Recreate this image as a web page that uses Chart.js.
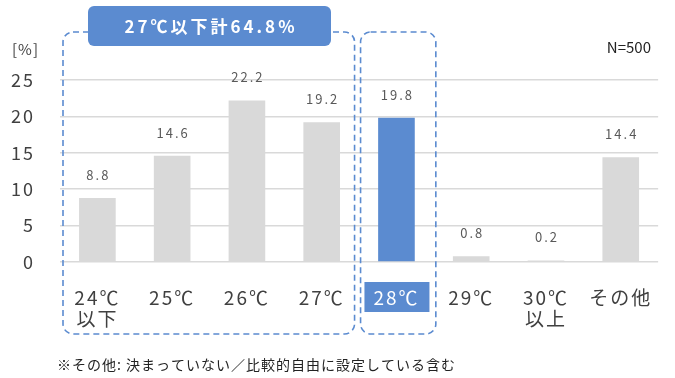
<!DOCTYPE html>
<html><head><meta charset="utf-8">
<script src="https://cdn.jsdelivr.net/npm/chart.js@4/dist/chart.umd.min.js"></script>
<style>html,body{margin:0;padding:0;background:#fff}#w{width:675px;height:378px}</style>
</head><body><div id="w"><canvas id="c" width="675" height="378"></canvas></div>
<script>
const categories = [["24℃","以下"],"25℃","26℃","27℃","28℃","29℃",["30℃","以上"],"その他"];
const values = [8.8, 14.6, 22.2, 19.2, 19.8, 0.8, 0.2, 14.4];
const valueLabels = ["8.8","14.6","22.2","19.2","19.8","0.8","0.2","14.4"];
const highlightIndex = 4;
const yTicks = [0,5,10,15,20,25];
const titleText = "27℃以下計64.8%";
const noteText = "※その他: 決まっていない／比較的自由に設定している含む";
const nText = "N=500";
const unitText = "[%]";

const BLUE = "#5B8BD0", GRAY = "#D9D9D9", TXT = "#404040";
const FONT = "'Noto Sans CJK JP','Noto Sans',sans-serif";

function rr(ctx,x,y,w,h,r){ctx.beginPath();ctx.moveTo(x+r,y);ctx.lineTo(x+w-r,y);ctx.arcTo(x+w,y,x+w,y+r,r);ctx.lineTo(x+w,y+h-r);ctx.arcTo(x+w,y+h,x+w-r,y+h,r);ctx.lineTo(x+r,y+h);ctx.arcTo(x,y+h,x,y+h-r,r);ctx.lineTo(x,y+r);ctx.arcTo(x,y,x+r,y,r);ctx.closePath();}

const decor = {
  id:'decor',
  beforeDraw(chart){
    const ctx = chart.ctx, xs = chart.scales.x;
    // 28℃ label box (drawn before the tick labels)
    const cx = xs.getPixelForValue(highlightIndex);
    ctx.save(); ctx.fillStyle = BLUE; ctx.fillRect(cx-32, 282, 65, 30); ctx.restore();
    ctx.letterSpacing = '2px';
  },
  afterDatasetsDraw(chart){ chart.ctx.letterSpacing = '0px'; },
  afterDraw(chart){
    const ctx = chart.ctx, xs = chart.scales.x;
    const meta = chart.getDatasetMeta(0);
    // value labels
    ctx.save();
    ctx.letterSpacing = '2px';
    ctx.font = "13px " + FONT; ctx.fillStyle = "#595959"; ctx.textAlign = 'center'; ctx.textBaseline = 'middle';
    meta.data.forEach((b,i)=>{ ctx.fillText(valueLabels[i], b.x+1, b.y-23); });
    ctx.restore();
    // dashed boxes
    const step = xs.getPixelForValue(1) - xs.getPixelForValue(0);
    const l0 = xs.getPixelForValue(0) - step/2 + 3;
    const r0 = xs.getPixelForValue(3) + step/2 - 4.5;
    const l1 = xs.getPixelForValue(4) - step/2 + 1.5;
    const r1 = xs.getPixelForValue(4) + step/2 + 2;
    ctx.save();
    ctx.strokeStyle = BLUE; ctx.lineWidth = 1.6; ctx.setLineDash([6,4]);
    rr(ctx, l0, 32, r0-l0, 302, 10); ctx.stroke();
    rr(ctx, l1, 32, r1-l1, 302, 10); ctx.stroke();
    ctx.restore();
    // title box
    ctx.save();
    ctx.fillStyle = BLUE; rr(ctx, 88, 6, 243, 40, 6); ctx.fill();
    ctx.letterSpacing = '3px';
    ctx.font = "bold 17px " + FONT; ctx.fillStyle = "#fff"; ctx.textAlign='center'; ctx.textBaseline='middle';
    ctx.fillText(titleText, 211, 27);
    ctx.restore();
    // other texts
    ctx.save();
    ctx.fillStyle = TXT; ctx.textBaseline='middle';
    ctx.font = "15px " + FONT; ctx.textAlign='left'; ctx.letterSpacing='1px';
    ctx.fillText(unitText, 12, 49);
    ctx.letterSpacing='0px';
    ctx.textAlign='right'; ctx.fillStyle = "#222";
    ctx.fillText(nText, 651, 47);
    ctx.font = "14px " + FONT; ctx.textAlign='left'; ctx.fillStyle="#222"; ctx.letterSpacing='1px';
    ctx.fillText(noteText, 57, 365);
    ctx.restore();
  }
};

new Chart(document.getElementById('c'), {
  type:'bar',
  data:{ labels: categories, datasets:[{ data: values,
    backgroundColor: values.map((v,i)=> i===highlightIndex ? BLUE : GRAY),
    barPercentage:0.49, categoryPercentage:1 }]},
  options:{
    responsive:false, animation:false, devicePixelRatio:1,
    layout:{ padding:{ top:80, right:12, left:0, bottom:0 } },
    plugins:{ legend:{display:false}, tooltip:{enabled:false} },
    scales:{
      y:{ min:0, max:25, afterBuildTicks(s){ s.ticks = yTicks.map(v=>({value:v})); },
        afterFit(s){ s.width = 60; },
        border:{display:false},
        grid:{ color:"#D9D9D9", lineWidth:1.5, drawTicks:false },
        ticks:{ padding:25, color:TXT, font:{ family:FONT, size:18 } } },
      x:{ afterFit(s){ s.height = 116; },
        border:{display:false},
        grid:{ display:false, drawTicks:false },
        ticks:{ padding:25, color:(c)=> c.index===highlightIndex ? "#fff" : TXT,
          font:{ family:FONT, size:19, lineHeight:1.12 }, maxRotation:0, autoSkip:false } }
    }
  },
  plugins:[decor]
});
</script></body></html>
